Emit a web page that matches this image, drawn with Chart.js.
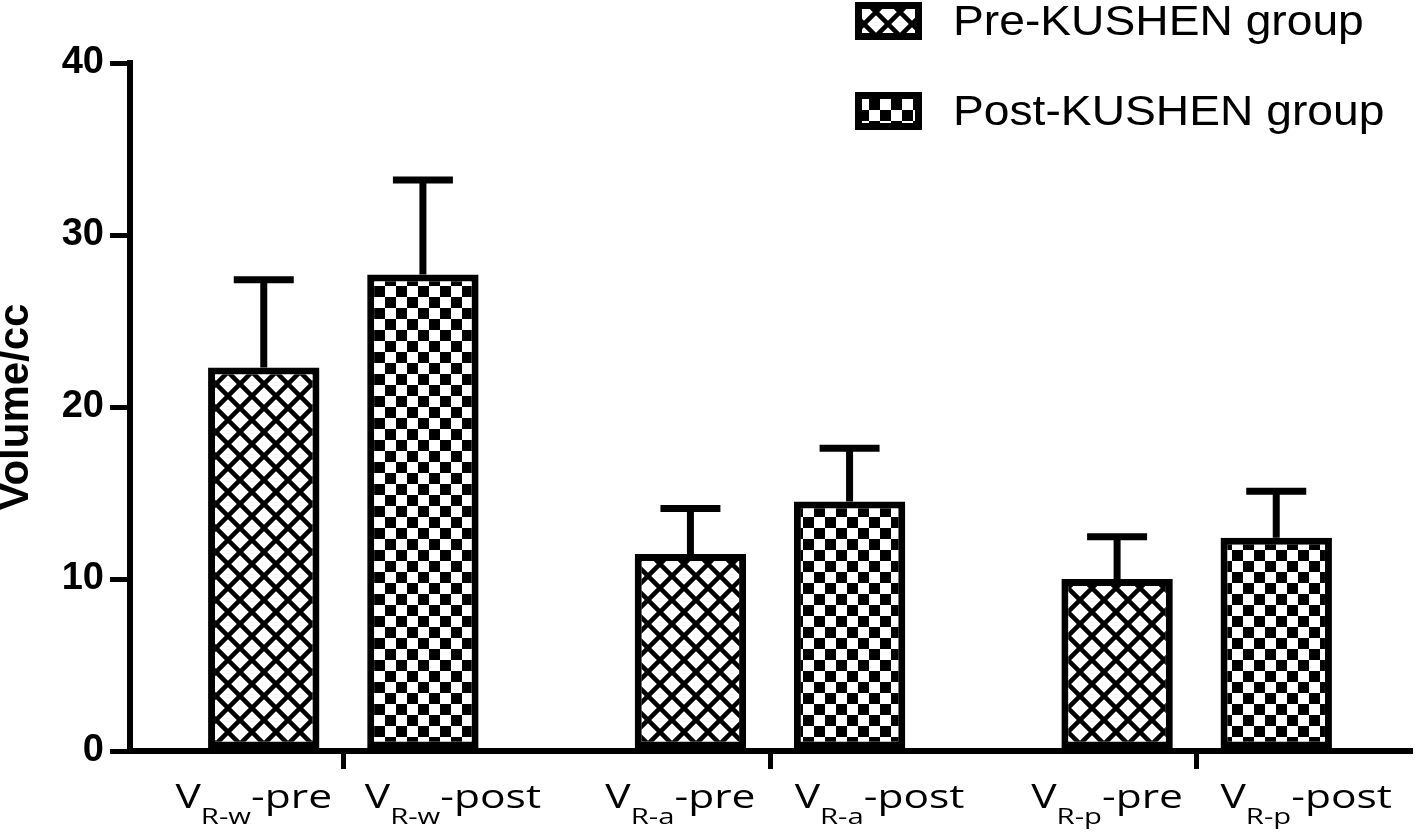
<!DOCTYPE html>
<html>
<head>
<meta charset="utf-8">
<script src="https://cdn.jsdelivr.net/npm/chart.js@4.4.1/dist/chart.umd.min.js"></script>
<style>
  html, body { margin: 0; padding: 0; background: #fff; }
  #wrap { width: 1418px; height: 836px; }
  .preload { font-family: "Open Sans"; position: absolute; left: -999px; }
</style>
</head>
<body>
<span class="preload">V R-w -pre</span>
<div id="wrap"><canvas id="chart" width="1418" height="836"></canvas></div>
<script>
// Data
const groups = ['R-w', 'R-a', 'R-p'];
const seriesNames = ['Pre-KUSHEN group', 'Post-KUSHEN group'];
const labelSuffix = ['-pre', '-post'];
const preValues = [22.3, 11.45, 10.0];
const preErrors = [5.1, 2.65, 2.45];
const postValues = [27.7, 14.5, 12.4];
const postErrors = [5.5, 3.1, 2.7];
const yTicks = [0, 10, 20, 30, 40];

// Fill patterns
function crossPattern() {
    const c = document.createElement('canvas');
    c.width = 24; c.height = 24;
    const g = c.getContext('2d');
    g.fillStyle = '#fff';
    g.fillRect(0, 0, 24, 24);
    g.strokeStyle = '#000';
    g.lineWidth = 4.6;
    g.beginPath();
    for (let k = -24; k <= 24; k += 24) {
        g.moveTo(k - 4, -4); g.lineTo(k + 28, 28);
        g.moveTo(k + 28, -4); g.lineTo(k - 4, 28);
    }
    g.stroke();
    return g.createPattern(c, 'repeat');
}

function checkPattern() {
    const c = document.createElement('canvas');
    c.width = 22; c.height = 22;
    const g = c.getContext('2d');
    g.fillStyle = '#fff';
    g.fillRect(0, 0, 22, 22);
    g.fillStyle = '#000';
    g.fillRect(0, 0, 11, 11);
    g.fillRect(11, 11, 11, 11);
    return g.createPattern(c, 'repeat');
}

// Error bars (upper only)
const errorBars = {
    id: 'errorBars',
    afterDatasetsDraw(chart) {
        const g = chart.ctx;
        const y = chart.scales.y;
        g.save();
        g.strokeStyle = '#000';
        g.lineWidth = 7;
        chart.data.datasets.forEach((ds, i) => {
            chart.getDatasetMeta(i).data.forEach((bar, j) => {
                const top = y.getPixelForValue(ds.data[j] + ds.errors[j]);
                g.beginPath();
                g.moveTo(bar.x, bar.y);
                g.lineTo(bar.x, top);
                g.moveTo(bar.x - 30, top);
                g.lineTo(bar.x + 30, top);
                g.stroke();
            });
        });
        g.restore();
    }
};

// Per-bar category labels with subscripts
const barLabels = {
    id: 'barLabels',
    afterDraw(chart) {
        const g = chart.ctx;
        const main = '32px "Open Sans", "Liberation Sans", sans-serif';
        const sub = '22px "Open Sans", "Liberation Sans", sans-serif';
        const base = chart.chartArea.bottom + 57;
        chart.data.datasets.forEach((ds, i) => {
            chart.getDatasetMeta(i).data.forEach((bar, j) => {
                const parts = [['V', main, 0], [groups[j], sub, 16], [labelSuffix[i], main, 0]];
                g.save();
                let w = 0;
                parts.forEach(p => { g.font = p[1]; w += g.measureText(p[0]).width; });
                const cx = bar.x + (i === 0 ? -10 : 30);
                g.translate(cx, base);
                g.scale(1.33, 1);
                g.fillStyle = '#000';
                g.textAlign = 'left';
                g.textBaseline = 'alphabetic';
                let x = -w / 2;
                parts.forEach(p => {
                    g.font = p[1];
                    g.fillText(p[0], x, p[2]);
                    x += g.measureText(p[0]).width;
                });
                g.restore();
            });
        });
    }
};

// Legend, stacked at top right
const legendBoxes = {
    id: 'legendBoxes',
    afterDraw(chart) {
        const g = chart.ctx;
        chart.data.datasets.forEach((ds, i) => {
            const top = 2 + i * 90;
            g.save();
            g.fillStyle = ds.backgroundColor;
            g.fillRect(855, top, 67, 38);
            g.strokeStyle = '#000';
            g.lineWidth = 7;
            g.strokeRect(858.5, top + 3.5, 60, 31);
            g.font = '42px "Liberation Sans"';
            g.fillStyle = '#000';
            g.textBaseline = 'alphabetic';
            g.translate(953, top + 33);
            g.scale(1.1, 1);
            g.fillText(ds.label, 0, 0);
            g.restore();
        });
    }
};

function drawChart() {
    const ctx = document.getElementById('chart').getContext('2d');
    new Chart(ctx, {
        type: 'bar',
        data: {
            labels: groups,
            datasets: [{
                label: seriesNames[0],
                data: preValues,
                errors: preErrors,
                backgroundColor: crossPattern(),
                borderColor: '#000',
                borderWidth: 7,
                borderSkipped: false,
                categoryPercentage: 0.746,
                barPercentage: 0.70
            }, {
                label: seriesNames[1],
                data: postValues,
                errors: postErrors,
                backgroundColor: checkPattern(),
                borderColor: '#000',
                borderWidth: 7,
                borderSkipped: false,
                categoryPercentage: 0.746,
                barPercentage: 0.70
            }]
        },
        options: {
            responsive: false,
            animation: false,
            layout: { padding: { top: 63, right: 8, left: 0, bottom: 0 } },
            plugins: {
                legend: { display: false },
                tooltip: { enabled: false }
            },
            scales: {
                x: {
                    grid: { offset: false, drawOnChartArea: false, color: '#000', lineWidth: 5, tickLength: 18 },
                    border: { color: '#000', width: 6 },
                    ticks: { callback: () => '' },
                    afterFit: s => { s.height = 85; }
                },
                y: {
                    min: 0,
                    max: 40,
                    afterBuildTicks: s => { s.ticks = yTicks.map(v => ({ value: v })); },
                    ticks: {
                        color: '#000',
                        padding: 6,
                        font: { family: 'Liberation Sans', size: 38, weight: 'bold' }
                    },
                    grid: { drawOnChartArea: false, color: '#000', lineWidth: 5, tickLength: 20 },
                    border: { color: '#000', width: 6 },
                    title: {
                        display: true,
                        text: 'Volume/cc',
                        color: '#000',
                        padding: 0,
                        font: { family: 'Liberation Sans', size: 42, weight: 'bold', lineHeight: 0.8 }
                    },
                    afterFit: s => { s.width = 130; }
                }
            }
        },
        plugins: [errorBars, barLabels, legendBoxes]
    });
}

document.fonts.load('32px "Open Sans"').then(drawChart, drawChart);
</script>
</body>
</html>
